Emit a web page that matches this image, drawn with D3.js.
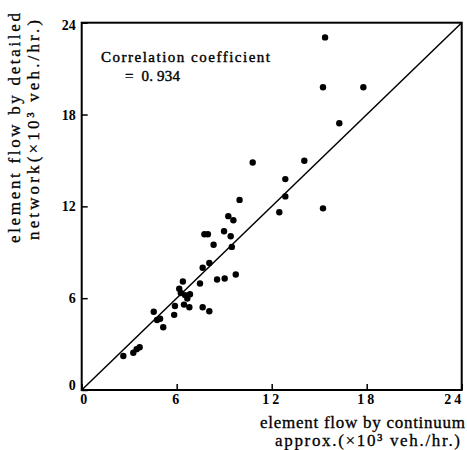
<!DOCTYPE html>
<html>
<head>
<meta charset="utf-8">
<script src="https://cdn.jsdelivr.net/npm/d3@7"></script>
<style>
  body { margin: 0; background: #fff; }
  svg { display: block; }
  .tick text { font-family: "Liberation Serif", serif; font-weight: bold; font-size: 14px; fill: #000; }
  .lab { font-family: "Liberation Serif", serif; font-size: 17px; fill: #000; stroke: #000; stroke-width: 0.3px; }
  .note { font-family: "Liberation Serif", serif; font-size: 15px; fill: #000; stroke: #000; stroke-width: 0.4px; white-space: pre; }
</style>
</head>
<body>
<svg class="chart"></svg>
<script>
// values (x10^3 veh./hr.)
var continuum = [15.37, 15.24, 17.79, 16.27, 10.80, 14.06, 12.86, 12.86, 12.48, 15.24,
                 9.97, 9.26, 9.58, 7.75, 7.97, 8.99, 9.41, 8.33, 9.48, 8.06,
                 7.64, 7.47, 8.55, 9.03, 9.73, 6.39, 6.16, 6.26, 6.53, 6.84,
                 6.67, 6.46, 6.80, 5.89, 5.84, 7.64, 8.06, 4.55, 4.76, 4.95,
                 5.15, 3.66, 3.47, 3.26, 2.63];
var detailed  = [23.04, 19.78, 19.78, 17.43, 14.87, 14.98, 13.78, 12.65, 11.61, 11.87,
                 12.42, 11.36, 11.09, 10.18, 10.18, 10.37, 10.05, 9.49, 9.35, 8.30,
                 7.99, 6.96, 7.22, 7.29, 7.55, 7.09, 6.62, 6.34, 6.20, 6.26,
                 5.98, 5.58, 5.41, 5.49, 4.91, 5.41, 5.15, 5.11, 4.57, 4.66,
                 4.10, 2.79, 2.67, 2.43, 2.22];
var tickVals = [0, 6, 12, 18, 24];
var coefText = ["Correlation coefficient", "=  0. 934"];

var width = 467, height = 450;
var box = {left: 81.7, right: 461.7, top: 22.7, bottom: 390};

var chart = d3.select('.chart')
    .attr("width", width)
    .attr("height", height);

var xScale = d3.scaleLinear().domain([0, 24]).range([box.left, box.right]);
var yScale = d3.scaleLinear().domain([0, 24]).range([box.bottom, box.top]);

// axes, ticks pointing inward
var gx = chart.append("g")
    .attr("transform", "translate(0," + box.bottom + ")")
    .call(d3.axisBottom(xScale).tickValues(tickVals).tickSizeInner(-6).tickSizeOuter(0).tickPadding(4));
gx.select(".domain").remove();
gx.selectAll(".tick line").attr("stroke", "#000").attr("stroke-width", 1.5);
gx.selectAll(".tick text")
    .attr("dx", function(d){ return d == 0 ? 3 : (d == 24 ? -8 : 0); })
    .attr("letter-spacing", "3px");

var gy = chart.append("g")
    .attr("transform", "translate(" + box.left + ",0)")
    .call(d3.axisLeft(yScale).tickValues(tickVals).tickSizeInner(-6).tickSizeOuter(0).tickPadding(6));
gy.select(".domain").remove();
gy.selectAll(".tick line").attr("stroke", "#000").attr("stroke-width", 1.5);
gy.selectAll(".tick text")
    .attr("y", function(d){ return d == 0 ? -5 : (d == 24 ? 2 : 0); });

// frame
chart.append("rect")
    .attr("x", box.left)
    .attr("y", box.top)
    .attr("width", box.right - box.left)
    .attr("height", box.bottom - box.top)
    .attr("fill", "none")
    .attr("stroke", "#000")
    .attr("stroke-width", 2);

// 45 degree line
chart.append("line")
    .attr("x1", xScale(0)).attr("y1", yScale(0))
    .attr("x2", xScale(24)).attr("y2", yScale(24))
    .attr("stroke", "#000")
    .attr("stroke-width", 1.5);

// points
chart.append("g").selectAll("circle")
    .data(continuum)
    .enter().append("circle")
    .attr("cx", function(d){ return xScale(d); })
    .attr("cy", function(d, i){ return yScale(detailed[i]); })
    .attr("r", 3.2)
    .attr("fill", "#000");

// correlation note
chart.append("text").attr("class", "note")
    .attr("x", 101).attr("y", 62)
    .attr("textLength", 169).attr("lengthAdjust", "spacing")
    .text(coefText[0]);
chart.append("text").attr("class", "note")
    .attr("x", 125).attr("y", 81)
    .attr("textLength", 55).attr("lengthAdjust", "spacing")
    .text(coefText[1]);

// axis titles
chart.append("text").attr("class", "lab")
    .attr("x", 260).attr("y", 428)
    .attr("textLength", 205).attr("lengthAdjust", "spacing")
    .text("element flow by continuum");
chart.append("text").attr("class", "lab")
    .attr("x", 275).attr("y", 446)
    .attr("textLength", 185).attr("lengthAdjust", "spacing")
    .text("approx.(\u00d710\u00b3 veh./hr.)");

var yt = chart.append("g")
    .attr("transform", "translate(0,243) rotate(-90)");
yt.append("text").attr("class", "lab")
    .attr("x", 0).attr("y", 20)
    .attr("textLength", 230).attr("lengthAdjust", "spacing")
    .text("element flow by detailed");
yt.append("text").attr("class", "lab")
    .attr("x", 3).attr("y", 39)
    .attr("textLength", 220).attr("lengthAdjust", "spacing")
    .text("network(\u00d710\u00b3 veh./hr.)");
</script>
</body>
</html>
